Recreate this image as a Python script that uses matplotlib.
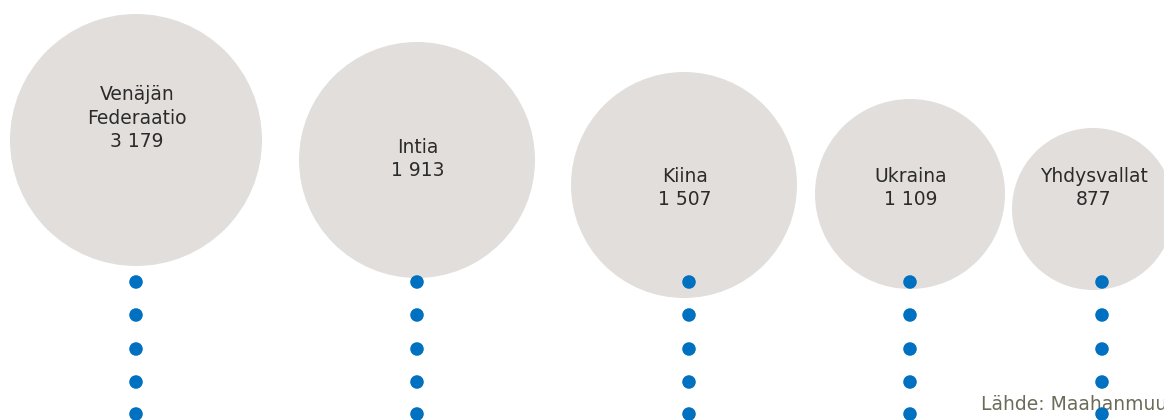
import matplotlib
matplotlib.use("Agg")
import matplotlib.pyplot as plt
from matplotlib.patches import Circle

# data
countries = ["Venäjän\nFederaatio", "Intia", "Kiina", "Ukraina", "Yhdysvallat"]
values = [3179, 1913, 1507, 1109, 877]
source = "Lähde: Maahanmuuttovirasto"

# layout (pixels, y down)
circle_x = [136, 417, 684, 910, 1093]
circle_y = [140, 160, 185, 194, 209]
circle_r = [126, 118, 113, 95, 81]
label_y = [118, 159, 188, 188, 188]
dot_x = [136, 417, 689, 910, 1102]
dot_y = [282, 315, 349, 382, 414]

CIRCLE_COL = "#e2dedc"
DOT_COL = "#0070c0"
TEXT_COL = "#2b2b2b"


def fmt(v):
    return f"{v:,}".replace(",", " ")


fig = plt.figure(figsize=(11.64, 4.2), dpi=100)
ax = fig.add_axes([0, 0, 1, 1])
ax.set_xlim(0, 1164)
ax.set_ylim(420, 0)
ax.set_aspect("equal")
ax.axis("off")

for name, val, cx, cy, r, ly in zip(countries, values, circle_x, circle_y, circle_r, label_y):
    ax.add_patch(Circle((cx, cy), r, facecolor=CIRCLE_COL, edgecolor="none", zorder=1))
    ax.text(cx + 1, ly, f"{name}\n{fmt(val)}", ha="center", va="center",
            multialignment="center", fontsize=13.5, color=TEXT_COL,
            linespacing=1.28, zorder=2)

# source line runs off the right edge, as in the original
ax.text(981, 410, source, ha="left", va="baseline", fontsize=13.5,
        color="#6b6b5a", zorder=2, clip_on=True)

for x in dot_x:
    ax.scatter([x] * len(dot_y), dot_y, s=95, color=DOT_COL, edgecolors="none", zorder=3)

fig.savefig("out.png", dpi=100)
